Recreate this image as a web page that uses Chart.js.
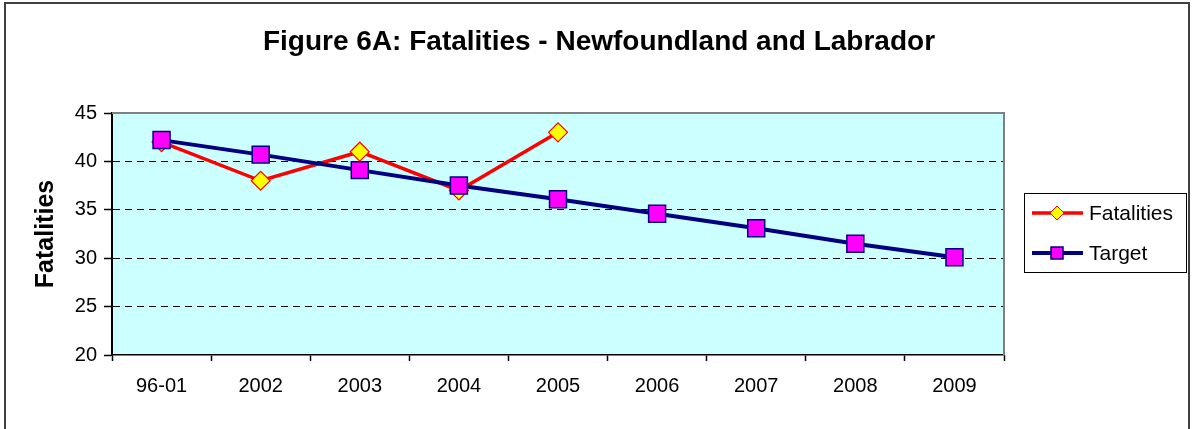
<!DOCTYPE html>
<html><head><meta charset="utf-8">
<script src="https://cdn.jsdelivr.net/npm/chart.js@4.4.0/dist/chart.umd.min.js"></script>
<style>html,body{margin:0;padding:0;background:#fff}#wrap{width:1195px;height:429px}</style>
</head><body><div id="wrap"><canvas id="c" width="1195" height="429"></canvas></div>
<script>
const categories = ['96-01','2002','2003','2004','2005','2006','2007','2008','2009'];
const fatalities = [42, 38, 41, 37, 43, null, null, null, null];
const target = [42.2, 40.7, 39.1, 37.5, 36.1, 34.6, 33.1, 31.5, 30.1];
const yTicks = [20, 25, 30, 35, 40, 45];
const seriesNames = ['Fatalities', 'Target'];
const chartTitle = 'Figure 6A: Fatalities - Newfoundland and Labrador';
const yTitle = 'Fatalities';

const FONT = "'Liberation Sans', Arial, sans-serif";
Chart.defaults.font.family = FONT;

function diamond(ctx, x, y, r, fill, stroke, w) {
  ctx.beginPath();
  ctx.moveTo(x, y - r); ctx.lineTo(x + r, y); ctx.lineTo(x, y + r); ctx.lineTo(x - r, y); ctx.closePath();
  ctx.fillStyle = fill; ctx.fill();
  ctx.lineWidth = w; ctx.strokeStyle = stroke; ctx.stroke();
}
function square(ctx, x, y, h, fill, stroke, w) {
  ctx.beginPath(); ctx.rect(x - h, y - h, 2 * h, 2 * h);
  ctx.fillStyle = fill; ctx.fill();
  ctx.lineWidth = w; ctx.strokeStyle = stroke; ctx.stroke();
}

const decor = {
  id: 'decor',
  beforeDraw(chart) {
    const ctx = chart.ctx, a = chart.chartArea;
    ctx.save();
    ctx.fillStyle = '#fff'; ctx.fillRect(0, 0, chart.width, chart.height);
    ctx.fillStyle = '#CCFFFF'; ctx.fillRect(a.left, a.top, a.right - a.left, a.bottom - a.top);
    ctx.restore();
  },
  beforeDatasetsDraw(chart) {
    const ctx = chart.ctx, a = chart.chartArea;
    ctx.save();
    ctx.strokeStyle = '#808080'; ctx.lineWidth = 2;
    ctx.beginPath();
    ctx.moveTo(a.left, a.top); ctx.lineTo(a.right, a.top); ctx.lineTo(a.right, a.bottom);
    ctx.stroke();
    ctx.restore();
  },
  afterDraw(chart) {
    const ctx = chart.ctx, a = chart.chartArea;
    ctx.save();
    // title
    ctx.fillStyle = '#000';
    ctx.font = 'bold 28px ' + FONT;
    ctx.textAlign = 'center'; ctx.textBaseline = 'alphabetic';
    ctx.fillText(chartTitle, 599, 50);
    // y title
    ctx.save();
    ctx.translate(53, (a.top + a.bottom) / 2);
    ctx.rotate(-Math.PI / 2);
    ctx.font = 'bold 25px ' + FONT;
    ctx.textAlign = 'center'; ctx.textBaseline = 'alphabetic';
    ctx.fillText(yTitle, 0, 0);
    ctx.restore();
    // legend
    ctx.strokeStyle = '#000'; ctx.lineWidth = 1;
    ctx.strokeRect(1024.5, 193.5, 162, 79);
    const ds = chart.data.datasets;
    const rows = [213, 253];
    ds.forEach((d, i) => {
      const y = rows[i];
      ctx.strokeStyle = d.borderColor; ctx.lineWidth = d.borderWidth;
      ctx.beginPath(); ctx.moveTo(1032, y); ctx.lineTo(1083, y); ctx.stroke();
      if (d.pointStyle === 'rectRot') diamond(ctx, 1057, y, 7, d.pointBackgroundColor, d.pointBorderColor, 1);
      else square(ctx, 1057, y, 6, d.pointBackgroundColor, d.pointBorderColor, 1.5);
      ctx.fillStyle = '#000';
      ctx.font = '21px ' + FONT;
      ctx.textAlign = 'left'; ctx.textBaseline = 'middle';
      ctx.fillText(d.label, 1089, y + 1);
    });
    // outer border
    ctx.strokeStyle = '#404040'; ctx.lineWidth = 2;
    ctx.strokeRect(5, 3, 1184, 440);
    ctx.restore();
  }
};

new Chart(document.getElementById('c'), {
  type: 'line',
  data: {
    labels: categories,
    datasets: [
      {
        label: seriesNames[0], data: fatalities, order: 1,
        borderColor: '#FF0000', borderWidth: 3.5, tension: 0, spanGaps: false,
        pointStyle: 'rectRot', pointRadius: 9.5, pointHoverRadius: 9.5,
        pointBackgroundColor: '#FFFF00', pointBorderColor: '#FF0000', pointBorderWidth: 1.2
      },
      {
        label: seriesNames[1], data: target, order: 0,
        borderColor: '#000080', borderWidth: 4, tension: 0,
        pointStyle: 'rect', pointRadius: 12, pointHoverRadius: 12,
        pointBackgroundColor: '#FF00FF', pointBorderColor: '#000080', pointBorderWidth: 1.5
      }
    ]
  },
  options: {
    responsive: false, animation: false,
    layout: { padding: { left: 0, right: 191, top: 113, bottom: 0 } },
    plugins: { legend: { display: false }, title: { display: false }, tooltip: { enabled: false } },
    events: [],
    scales: {
      x: {
        type: 'category', offset: true,
        afterFit(s) { s.height = 74; },
        grid: { display: true, drawOnChartArea: false, drawTicks: true, offset: true, tickLength: 6, tickColor: '#000', tickWidth: 1.5, color: '#000' },
        border: { display: true, color: '#000', width: 1.5 },
        ticks: { color: '#000', font: { size: 20 }, padding: 13, maxRotation: 0, autoSkip: false }
      },
      y: {
        min: 20, max: 45,
        afterFit(s) { s.width = 112; },
        afterBuildTicks(s) { s.ticks = yTicks.map(v => ({ value: v })); },
        grid: {
          color: c => (c.tick && (c.tick.value === 45 || c.tick.value === 20)) ? 'rgba(0,0,0,0)' : '#000',
          lineWidth: 1, tickLength: 8, tickColor: '#000', tickWidth: 1.5, tickBorderDash: []
        },
        border: { display: true, color: '#000', width: 2, dash: [7, 5] },
        ticks: { color: '#000', font: { size: 20 }, padding: 7 }
      }
    }
  },
  plugins: [decor]
});
</script>
</body></html>
